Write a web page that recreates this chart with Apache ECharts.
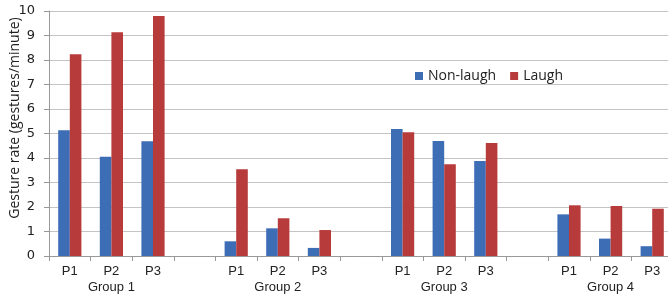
<!DOCTYPE html>
<html>
<head>
<meta charset="utf-8">
<script src="https://cdn.jsdelivr.net/npm/echarts@6/dist/echarts.min.js"></script>
<style>
    html, body { margin: 0; padding: 0; background: #fff; }
    #charts { width: 668px; height: 299px; }
</style>
</head>
<body>
<div id="charts"></div>
<script>
    // x axis: three participants per group, an empty slot between groups
    var categories = ['P1', 'P2', 'P3', '', 'P1', 'P2', 'P3', '', 'P1', 'P2', 'P3', '', 'P1', 'P2', 'P3'];
    var groupLabels = ['', 'Group 1', '', '', '', 'Group 2', '', '', '', 'Group 3', '', '', '', 'Group 4', ''];
    var nonLaugh = [5.13, 4.05, 4.68, null, 0.60, 1.13, 0.33, null, 5.18, 4.69, 3.88, null, 1.70, 0.71, 0.40];
    var laugh = [8.23, 9.13, 9.80, null, 3.54, 1.54, 1.06, null, 5.05, 3.74, 4.61, null, 2.07, 2.04, 1.93];
    var yTicks = [0, 1, 2, 3, 4, 5, 6, 7, 8, 9, 10];

    var myCharts = echarts.init(document.getElementById('charts'));
    myCharts.setOption({
        animation: false,
        legend: {
            left: 410,
            top: 64,
            icon: 'rect',
            itemWidth: 8,
            itemHeight: 8,
            itemGap: 14,
            textStyle: { fontFamily: 'Open Sans', fontSize: 14, color: '#222' },
            data: ['Non-laugh', 'Laugh']
        },
        // y axis title, sits a bit above the middle of the axis like the original
        graphic: [{
            type: 'text',
            x: 15,
            y: 118,
            rotation: Math.PI / 2,
            style: {
                text: 'Gesture rate (gestures/minute)',
                fontFamily: 'Open Sans',
                fontSize: 14,
                fill: '#222',
                align: 'center',
                verticalAlign: 'middle'
            }
        }],
        grid: {
            left: 49,
            right: -5,
            top: 11,
            bottom: 43,
            outerBoundsMode: 'none'
        },
        xAxis: {
            type: 'category',
            data: categories,
            axisLine: { lineStyle: { color: '#999' } },
            axisTick: { show: true, interval: 0, length: 5, lineStyle: { color: '#999' } },
            axisLabel: {
                interval: 0,
                margin: 7,
                fontFamily: 'Liberation Sans',
                fontSize: 13,
                color: '#222',
                lineHeight: 16,
                formatter: function (value, index) {
                    return groupLabels[index] ? value + '\n' + groupLabels[index] : value;
                }
            }
        },
        yAxis: {
            type: 'value',
            min: yTicks[0],
            max: yTicks[yTicks.length - 1],
            interval: 1,
            axisLine: { show: true, lineStyle: { color: '#999' } },
            axisTick: { show: true, length: 5, lineStyle: { color: '#999' } },
            axisLabel: { fontFamily: 'DejaVu Sans', fontSize: 13, color: '#222', margin: 14 },
            splitLine: { lineStyle: { color: '#c4c4c4', width: 1 } }
        },
        series: [
            {
                name: 'Non-laugh',
                type: 'bar',
                barWidth: 11.6,
                barGap: '0%',
                itemStyle: { color: '#3d6db5' },
                data: nonLaugh
            },
            {
                name: 'Laugh',
                type: 'bar',
                barWidth: 11.6,
                barGap: '0%',
                itemStyle: { color: '#b83b3b' },
                data: laugh
            }
        ]
    });
</script>
</body>
</html>
